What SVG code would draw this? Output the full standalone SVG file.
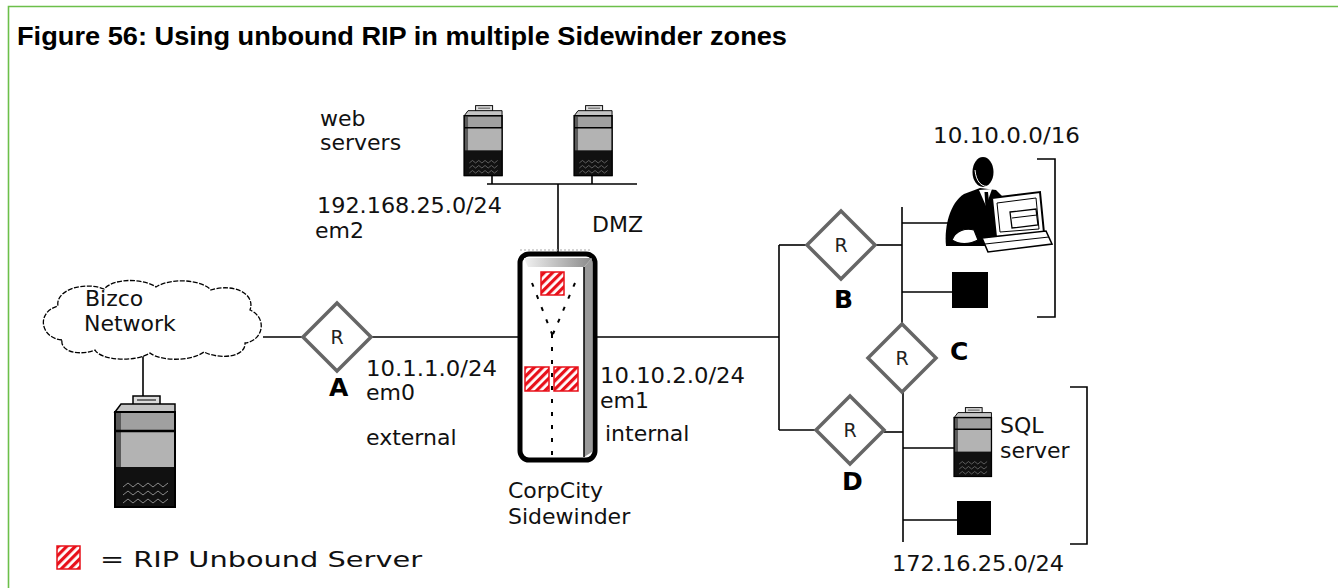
<svg xmlns="http://www.w3.org/2000/svg" width="1338" height="588" viewBox="0 0 1338 588">
  <style>
    .t { font-family: "DejaVu Sans", Verdana, sans-serif; font-size: 22px; fill: #111; }
    .r { font-family: "DejaVu Sans", Verdana, sans-serif; font-size: 19px; fill: #222; text-anchor: middle; }
    .lbl { font-family: "DejaVu Sans", Verdana, sans-serif; font-size: 25px; font-weight: bold; fill: #000; }
    .title { font-family: "Liberation Sans", Arial, sans-serif; font-size: 25px; font-weight: bold; fill: #000; }
    .wire { stroke: #000; stroke-width: 1.6; fill: none; }
    .router { fill: #fff; stroke: #666; stroke-width: 3.5; }
    .rip { fill: url(#hatch); stroke: #e8101a; stroke-width: 1.5; }
    .blk { fill: #000; }
  </style>
  <defs>
    <pattern id="hatch" patternUnits="userSpaceOnUse" width="6" height="6" patternTransform="rotate(45)">
      <rect width="6" height="6" fill="#fff"/>
      <rect width="3.2" height="6" fill="#e8101a"/>
    </pattern>
    <linearGradient id="bevel" x1="0" y1="0" x2="1" y2="0">
      <stop offset="0" stop-color="#f2f2f2"/>
      <stop offset="1" stop-color="#8a8a8a"/>
    </linearGradient>
    <!-- tower server, local box 0..64 x 0..116 -->
    <g id="srv">
      <rect x="20" y="1" width="27" height="9" fill="#dcdcdc" stroke="#000" stroke-width="1.5"/>
      <path d="M24,5 H43" stroke="#000" stroke-width="1"/>
      <polygon points="2,17 8,9 62,9 62,17" fill="#c4c4c4" stroke="#000" stroke-width="1.5"/>
      <rect x="2" y="17" width="60" height="95" fill="#a0a0a0" stroke="#000" stroke-width="2"/>
      <rect x="2" y="36" width="60" height="36" fill="#b3b3b3"/>
      <rect x="2" y="17" width="6" height="95" fill="#5a5a5a"/>
      <path d="M2,36 H62" stroke="#000" stroke-width="2.5"/>
      <rect x="2" y="72" width="60" height="40" fill="#111"/>
      <path d="M10,92 l5,-4 5,4 5,-4 5,4 5,-4 5,4 5,-4 5,4 5,-4 M10,100 l5,-4 5,4 5,-4 5,4 5,-4 5,4 5,-4 5,4 5,-4 M10,108 l5,-4 5,4 5,-4 5,4 5,-4 5,4 5,-4 5,4 5,-4" stroke="#8a8a8a" stroke-width="1" fill="none"/>
      <rect x="2" y="17" width="60" height="95" fill="none" stroke="#000" stroke-width="2"/>
    </g>
  </defs>

  <rect width="1338" height="588" fill="#fff"/>
  <path d="M8.5,588 V6.5 H1338" fill="none" stroke="#6cbf4a" stroke-width="1.6"/>

  <text class="title" x="17" y="45" textLength="770" lengthAdjust="spacingAndGlyphs">Figure 56: Using unbound RIP in multiple Sidewinder zones</text>

  <!-- links -->
  <g id="connectors">
    <path class="wire" d="M263,337 H303"/>
    <path class="wire" d="M371,337 H518"/>
    <path class="wire" d="M597,337 H779"/>
    <path class="wire" d="M779,245 V430"/>
    <path class="wire" d="M779,245 H807"/>
    <path class="wire" d="M779,430 H816"/>
    <path class="wire" d="M875,245 H902"/>
    <path class="wire" d="M902,207 V324"/>
    <path class="wire" d="M902,223 H950"/>
    <path class="wire" d="M902,292 H952"/>
    <path class="wire" d="M903,392 V542"/>
    <path class="wire" d="M884,432 H903"/>
    <path class="wire" d="M903,448 H956"/>
    <path class="wire" d="M903,520 H957"/>
    <path class="wire" d="M1037,159 H1055 V317 H1037"/>
    <path class="wire" d="M1070,387 H1087 V544 H1070"/>
    <path class="wire" d="M487,184 H637"/>
    <path class="wire" d="M492,175 V184"/>
    <path class="wire" d="M592,175 V184"/>
    <path class="wire" d="M558,184 V252"/>
    <path class="wire" d="M143,355 V396"/>
    <path d="M520,250 H592" stroke="#aaa" stroke-width="1.2" stroke-dasharray="2,2" fill="none"/>
  </g>

  <!-- Bizco cloud -->
  <g id="bizco">
    <path d="M62,340 C40,338 36,312 58,306 C55,290 84,281 104,289 C115,277 145,279 156,287 C172,277 202,280 211,290 C232,283 256,293 250,310 C268,318 263,341 245,343 C246,357 220,360 204,352 C190,362 160,361 150,353 C135,363 100,360 95,350 C80,356 60,352 62,340 Z" fill="#fff" stroke="#000" stroke-width="1.3" stroke-dasharray="5,1.5"/>
    <text class="t" x="85" y="306">Bizco</text>
    <text class="t" x="84" y="331">Network</text>
  </g>

  <g id="bizco-server">
    <use href="#srv" transform="translate(113,395)"/>
  </g>

  <g id="web-servers">
    <use href="#srv" transform="translate(463,105) scale(0.63)"/>
    <use href="#srv" transform="translate(573,105) scale(0.63)"/>
    <text class="t" x="320" y="126">web</text>
    <text class="t" x="320" y="150">servers</text>
    <text class="t" x="317" y="213" textLength="185" lengthAdjust="spacingAndGlyphs">192.168.25.0/24</text>
    <text class="t" x="315" y="238">em2</text>
    <text class="t" x="592" y="232">DMZ</text>
  </g>

  <!-- router A -->
  <g id="router-a">
    <polygon class="router" points="337,303 371,337 337,371 303,337"/>
    <text class="r" x="337" y="344">R</text>
    <text class="lbl" x="329" y="396">A</text>
    <text class="t" x="366" y="376" textLength="131" lengthAdjust="spacingAndGlyphs">10.1.1.0/24</text>
    <text class="t" x="366" y="400">em0</text>
    <text class="t" x="366" y="445">external</text>
  </g>

  <!-- firewall -->
  <g id="sidewinder">
    <rect x="520" y="254" width="75" height="206" rx="9" fill="#fff" stroke="#000" stroke-width="5"/>
    <polygon points="524,258 592,258 584,267 528,267" fill="url(#bevel)"/>
    <polygon points="584,267 592,258 592,452 584,457" fill="#9a9a9a"/>
    <path d="M584,267 V457" stroke="#000" stroke-width="1.5"/>
    <path d="M532,283 L552,334 M575,283 L553,334 M552,334 V456" stroke="#000" stroke-width="2" stroke-dasharray="4,9" fill="none"/>
    <rect class="rip" x="541" y="272" width="23" height="23"/>
    <rect class="rip" x="525" y="367" width="24" height="24"/>
    <rect class="rip" x="554" y="367" width="24" height="24"/>
    <text class="t" x="600" y="383" textLength="145" lengthAdjust="spacingAndGlyphs">10.10.2.0/24</text>
    <text class="t" x="600" y="408">em1</text>
    <text class="t" x="605" y="441">internal</text>
    <text class="t" x="508" y="498" font-size="21">CorpCity</text>
    <text class="t" x="508" y="524" font-size="21">Sidewinder</text>
  </g>

  <!-- router B -->
  <g id="router-b">
    <polygon class="router" points="841,211 875,245 841,279 807,245"/>
    <text class="r" x="841" y="252">R</text>
    <text class="lbl" x="834" y="308">B</text>
  </g>

  <!-- router C -->
  <g id="router-c">
    <polygon class="router" points="902,324 936,358 902,392 868,358"/>
    <text class="r" x="902" y="365">R</text>
    <text class="lbl" x="950" y="360">C</text>
  </g>

  <!-- router D -->
  <g id="router-d">
    <polygon class="router" points="850,396 884,430 850,464 816,430"/>
    <text class="r" x="850" y="437">R</text>
    <text class="lbl" x="842" y="490">D</text>
  </g>

  <!-- user workstation -->
  <g id="workstation">
    <text class="t" x="933" y="143" textLength="147" lengthAdjust="spacingAndGlyphs">10.10.0.0/16</text>
    <path d="M946,246 C944,226 950,203 964,194 L980,188 L996,190 L1006,200 L1004,246 Z" fill="#000"/>
    <ellipse cx="983" cy="172" rx="10.5" ry="15" fill="#000"/>
    <path d="M975,170 C976,182 982,188 990,186" stroke="#fff" stroke-width="1" fill="none"/>
    <polygon points="979,190 992,189 986,206" fill="#fff"/>
    <polygon points="984.5,192 988,192 990,212 986,215" fill="#000"/>
    <path d="M952,240 C956,230 966,228 974,230 L978,240 C970,244 960,245 952,240 Z" fill="#fff" stroke="#000" stroke-width="1.2"/>
    <polygon points="992,198 1040,192 1044,233 996,237" fill="#fff" stroke="#000" stroke-width="2"/>
    <polygon points="997,203 1036,198 1039,229 1000,232" fill="none" stroke="#000" stroke-width="1"/>
    <polygon points="1010,212 1036,209 1038,225 1012,228" fill="#fff" stroke="#000" stroke-width="1.3"/>
    <path d="M1012,218 L1037,215" stroke="#000" stroke-width="1"/>
    <polygon points="982,238 1046,231 1052,244 988,252" fill="#fff" stroke="#000" stroke-width="1.6"/>
    <path d="M985,244 L1049,237" stroke="#000" stroke-width="1"/>
  </g>

  <g id="host-1">
    <rect class="blk" x="952" y="272" width="36" height="36"/>
  </g>

  <g id="sql-server">
    <use href="#srv" transform="translate(953,407) scale(0.62)"/>
    <text class="t" x="1000" y="433">SQL</text>
    <text class="t" x="1000" y="458">server</text>
    <text class="t" x="892" y="571" textLength="172" lengthAdjust="spacingAndGlyphs">172.16.25.0/24</text>
  </g>

  <g id="host-2">
    <rect class="blk" x="957" y="501" width="34" height="34"/>
  </g>

  <!-- key -->
  <g id="legend">
    <rect class="rip" x="57" y="546" width="23" height="23"/>
    <text class="t" x="100" y="567" font-size="28.5" textLength="322" lengthAdjust="spacingAndGlyphs">= RIP Unbound Server</text>
  </g>
</svg>
